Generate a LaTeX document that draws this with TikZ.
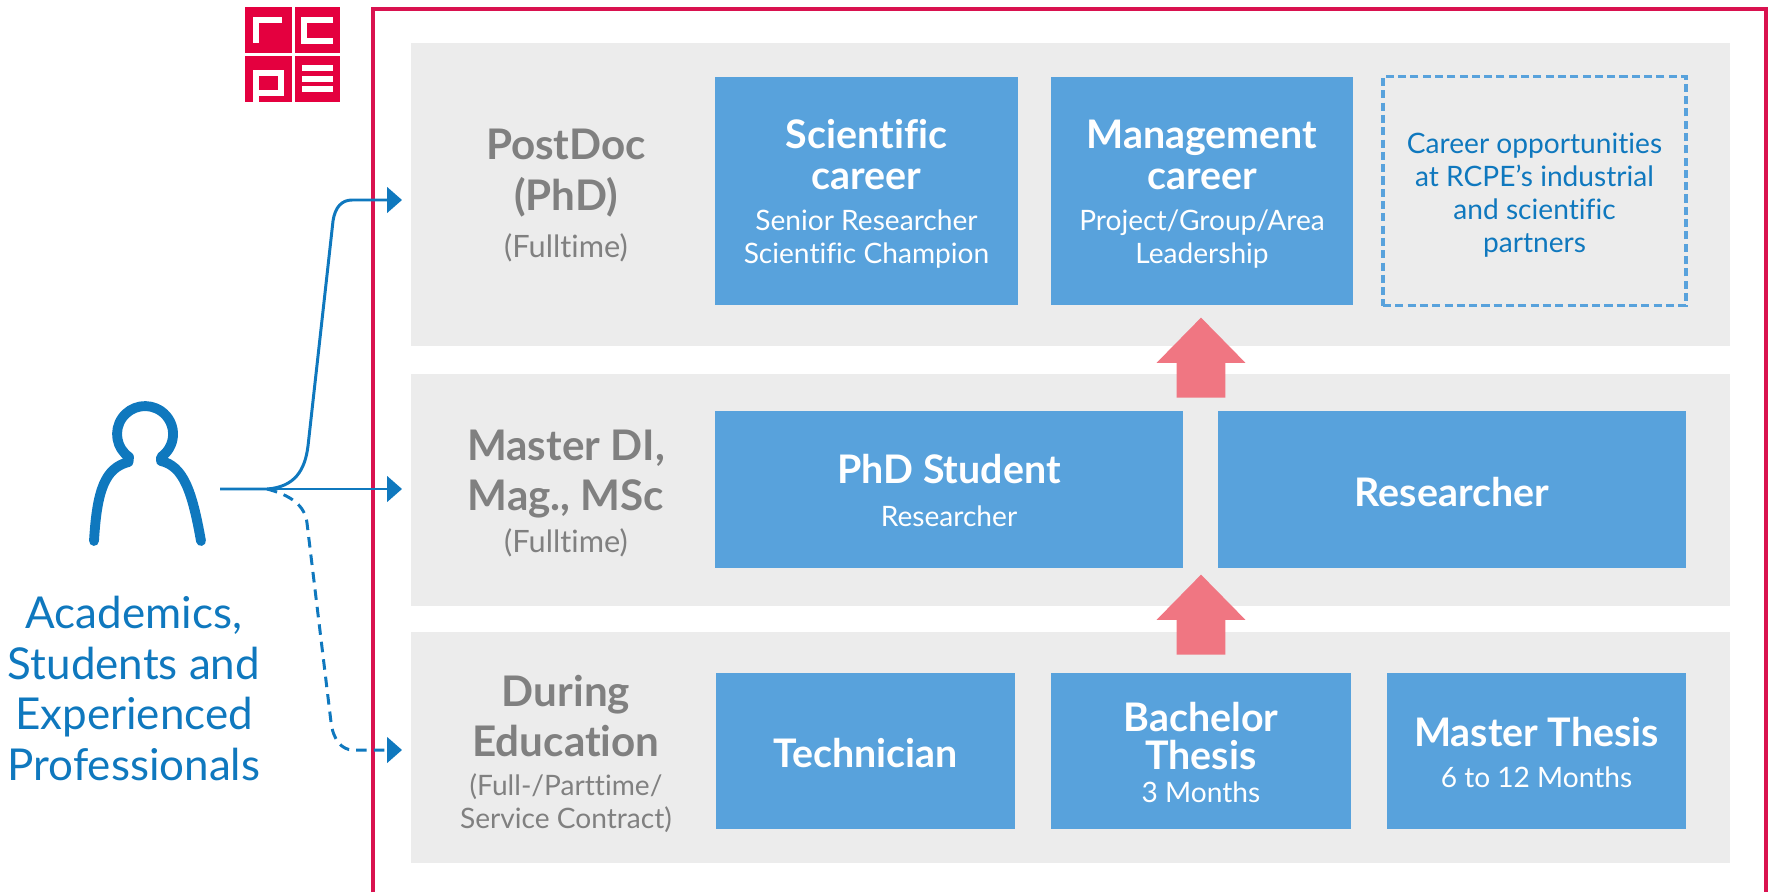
\documentclass[tikz,border=0pt]{standalone}
\usepackage{fontspec}
\setmainfont[Ligatures=NoCommon]{Lato}
\usetikzlibrary{arrows.meta}
\usetikzlibrary{shapes.arrows}
\definecolor{rcpered}{HTML}{D9124F}
\definecolor{logored}{HTML}{E4003F}
\definecolor{bandgray}{HTML}{ECECEC}
\definecolor{boxblue}{HTML}{58A2DC}
\definecolor{lineblue}{HTML}{0F78BE}
\definecolor{textgray}{HTML}{808080}
\definecolor{uppink}{HTML}{F07682}
\newcommand{\px}{0.569pt}
\newcommand{\headfont}{\fontsize{22.4}{22.4}\bfseries\selectfont}
\newcommand{\sidefont}{\fontsize{24}{24}\bfseries\selectfont}
\newcommand{\subfont}{\fontsize{16}{18.7}\selectfont}
\newcommand{\fullfont}{\fontsize{17.5}{18.7}\selectfont}
\tikzset{boxsize/.style 2 args = {minimum width = #1*\px, minimum height = #2*\px}}
\tikzset{band/.style = {fill = bandgray, inner sep = 0}}
\tikzset{bluebox/.style = {fill = boxblue, inner sep = 0}}
\tikzset{boxtext/.style = {text = white, inner sep = 0, align = center, font = \subfont}}
\tikzset{dashbox/.style = {draw = boxblue, line width = 2pt, dash pattern = on 4.6pt off 2.4pt, inner sep = 0}}
\tikzset{dashtext/.style = {boxtext, text = lineblue}}
\tikzset{side/.style = {text = textgray, align = center, font = \subfont}}
\tikzset{flow/.style = {draw = lineblue, line width = 1.7pt, -{Triangle[length = 8.5pt, width = 14.5pt]}}}
\tikzset{flowdash/.style = {flow, dash pattern = on 6pt off 4pt}}
\tikzset{uparrow/.style = {single arrow, fill = uppink, rotate = 90, inner xsep = 0,
                           inner ysep = 13.66pt, minimum height = 45.5pt, minimum width = 50pt,
                           single arrow head extend = 11.4pt, single arrow tip angle = 89}}
\tikzset{person/.style = {draw = lineblue, line width = 5.6pt, line cap = round, line join = round}}
\tikzset{glyph/.style = {draw = white, line width = 2.9pt}}

\begin{document}
\begin{tikzpicture}[x = 0.569pt, y = -0.569pt]
  \useasboundingbox (0, 0) rectangle (1771, 892);

  \draw [rcpered, line width = 1.8pt] (373, 892) -- (373, 9) -- (1766, 9) -- (1766, 892);

  \node [band, boxsize = {1319}{303}] (bandtop) at (1070.5, 194.5) {};
  \node [band, boxsize = {1319}{232}] (bandmid) at (1070.5, 490) {};
  \node [band, boxsize = {1319}{231}] (bandlow) at (1070.5, 747.5) {};

  % logo
  \fill [logored] (245, 7) rectangle (292, 53);
  \fill [logored] (295, 7) rectangle (340, 53);
  \fill [logored] (245, 56) rectangle (292, 102);
  \fill [logored] (295, 56) rectangle (340, 102);
  \draw [glyph] (256, 43) -- (256, 20) -- (282, 20);
  \draw [glyph] (333, 20) -- (304, 20) -- (304, 41) -- (333, 41);
  \draw [glyph] (256, 102) -- (256, 73) -- (281, 73) -- (281, 93) -- (256, 93);
  \draw [glyph] (302, 68) -- (333, 68);
  \draw [glyph] (302, 79) -- (333, 79);
  \draw [glyph] (302, 89) -- (333, 89);

  % person
  \draw [person] (94, 541) .. controls (97, 490) and (105, 468) .. (128.5, 462)
    -- (129, 457) arc (125:415:28) -- (161, 461)
    .. controls (183, 466) and (192, 490) .. (201, 541);
  \node [text = lineblue, align = center, font = \fontsize{25}{29}\selectfont] (people) at (134, 688.5)
    {Academics,\\Students and\\Experienced\\Professionals};

  % labels
  \node [side] (postdoc) at (566, 195.5)
    {{\sidefont PostDoc}\\[9pt]{\sidefont (PhD)}\\[8pt]{\fullfont (Fulltime)}};
  \node [side] (master) at (566, 493.5)
    {{\sidefont Master DI,}\\[6.5pt]{\sidefont Mag., MSc}\\[5.5pt]{\fullfont (Fulltime)}};
  \node [side] (during) at (566, 754)
    {{\sidefont During}\\[5.2pt]{\sidefont Education}\\[3.8pt](Full-/Parttime/\\Service Contract)};

  % boxes
  \node [bluebox, boxsize = {303}{228}] (scientific) at (866.5, 191) {};
  \node [boxtext] (scientifictext) at (866.5, 193.5)
    {{\headfont Scientific}\\[4.6pt]{\headfont career}\\[4.6pt]Senior Researcher\\Scientific Champion};
  \node [bluebox, boxsize = {302}{228}] (management) at (1202, 191) {};
  \node [boxtext] (managementtext) at (1202, 194.5)
    {{\headfont Management}\\[4.6pt]{\headfont career}\\[4.6pt]Project/Group/Area\\Leadership};
  \node [dashbox, boxsize = {303}{229}] (partners) at (1534.5, 191) {};
  \node [dashtext] (partnerstext) at (1534.5, 195)
    {Career opportunities\\at RCPE's industrial\\and scientific\\partners};
  \node [bluebox, boxsize = {468}{157}] (phd) at (949, 489.5) {};
  \node [boxtext] (phdtext) at (949, 490.5)
    {{\headfont PhD Student}\\[5.5pt]Researcher};
  \node [bluebox, boxsize = {468}{157}] (researcher) at (1452, 489.5) {};
  \node [boxtext] (researchertext) at (1452, 491.8) {\headfont Researcher};
  \node [bluebox, boxsize = {299}{156}] (technician) at (865.5, 751) {};
  \node [boxtext] (techniciantext) at (865.5, 753) {\headfont Technician};
  \node [bluebox, boxsize = {300}{156}] (bachelor) at (1201, 751) {};
  \node [boxtext] (bachelortext) at (1201, 752.5)
    {{\headfont Bachelor}\\[3pt]{\headfont Thesis}\\[0pt]3 Months};
  \node [bluebox, boxsize = {299}{156}] (thesis) at (1536.5, 751) {};
  \node [boxtext] (thesistext) at (1536.5, 752.5)
    {{\headfont Master Thesis}\\[5pt]6 to 12 Months};

  \node [uparrow] (uptop) at (1201, 370) {};
  \node [uparrow] (uplow) at (1201, 627) {};

  % connectors
  \coordinate (start) at (220, 489);
  \coordinate (tiptop) at (402, 200);
  \coordinate (tipmid) at (402, 489);
  \coordinate (tiplow) at (402, 750);
  \draw [flow] (start) -- (tipmid);
  \draw [flow] (start) -- (267, 489) .. controls (295, 487) and (305, 470) .. (308, 446)
    -- (333, 221) .. controls (335, 207) and (342, 200) .. (352, 200) -- (tiptop);
  \draw [flowdash] (267, 489) .. controls (290, 495) and (305, 505) .. (307, 523)
    -- (331, 722) .. controls (333, 740) and (342, 750) .. (353, 750) -- (tiplow);
\end{tikzpicture}
\end{document}
